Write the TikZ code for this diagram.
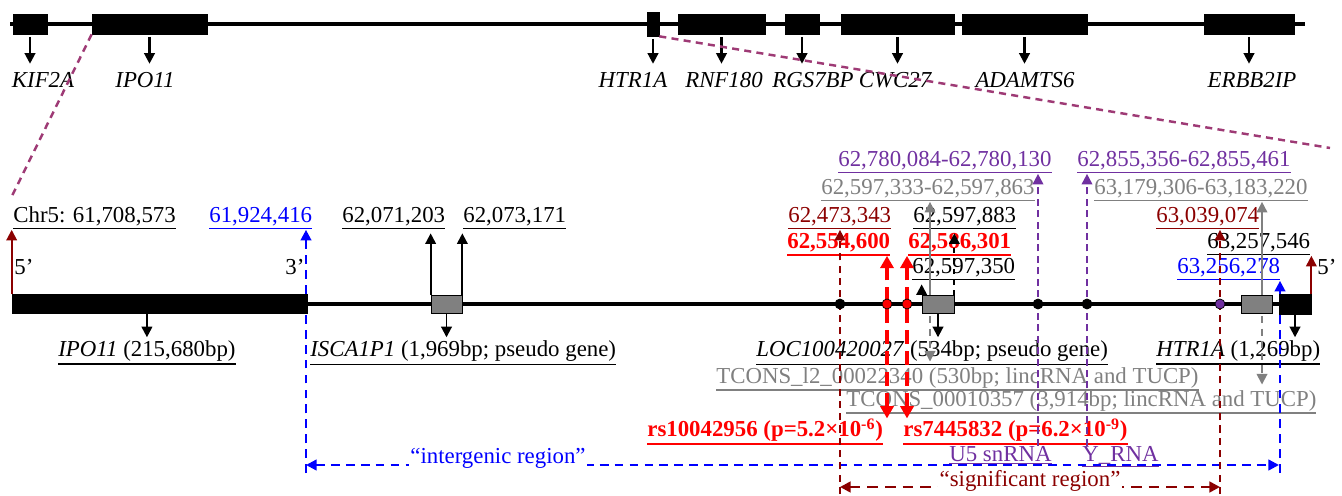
\documentclass[tikz,border=0pt]{standalone}
\usepackage{fontspec}
\setmainfont{Liberation Serif}
\usetikzlibrary{arrows.meta}
\definecolor{DeepRed}{HTML}{8B0000}
\definecolor{SnpRed}{HTML}{FF0000}
\definecolor{RnaPurple}{HTML}{7030A0}
\definecolor{ZoomPlum}{HTML}{9E3A75}
\definecolor{LincGray}{HTML}{808080}
\definecolor{BoxGray}{HTML}{808080}
% underline with a heavier rule
\newcommand{\uln}[1]{\leavevmode\vtop{\hbox{#1}\kern0.9pt\hrule height 0.8pt}}

\begin{document}
\begin{tikzpicture}[x=0.02cm, y=-0.02cm, >={Triangle[length=6pt,width=6pt]},
  every node/.style={font=\fontsize{13pt}{15pt}\selectfont},
  lbl/.style={inner sep=0pt, anchor=base west},
  gene/.style={font=\fontsize{13pt}{15pt}\selectfont\itshape, inner sep=0pt, anchor=base},
  exon/.style={draw=black, fill=black, inner sep=0pt, minimum height=0.4cm},
  pseudo/.style={draw=black, fill=BoxGray, inner sep=0pt, minimum height=0.36cm, thin},
  dot/.style={circle, draw=black, inner sep=0pt, minimum size=0.2cm, thin},
  genearrow/.style={->, line width=1.2pt, shorten >=5pt, shorten <=1.5pt},
  blackarrow/.style={->, line width=1.1pt, shorten >=2pt},
  deeparrow/.style={->, line width=1.1pt, DeepRed},
  zoomline/.style={ZoomPlum, line width=1.4pt, dash pattern=on 4pt off 3pt},
  bluedash/.style={blue, line width=1.3pt, dash pattern=on 5pt off 3.5pt},
  deepdash/.style={DeepRed, line width=1.1pt, dash pattern=on 4pt off 3pt},
  snpdash/.style={SnpRed, line width=2.6pt, dash pattern=on 8pt off 4pt, >={Triangle[length=7pt,width=7.5pt]}},
  purpledash/.style={RnaPurple, line width=1.1pt, dash pattern=on 4pt off 2.5pt},
  grayline/.style={LincGray, line width=1pt},
  graydash/.style={LincGray, line width=1pt, dash pattern=on 4pt off 3pt, shorten >=3pt}]
  \useasboundingbox (0,0) rectangle (1342,496);

  % chromosome overview
  \coordinate (topL) at (10,24);
  \coordinate (topR) at (1305,24);
  \draw[line width=2.8pt] (topL) -- (topR);
  \node[exon, minimum width=0.68cm] (kif) at (30,24) {};
  \node[exon, minimum width=2.3cm] (ipo) at (149.5,24) {};
  \node[exon, minimum width=0.24cm, minimum height=0.48cm] (htr) at (653,24) {};
  \node[exon, minimum width=1.74cm] (rnf) at (721.5,24) {};
  \node[exon, minimum width=0.68cm] (rgs) at (802,24) {};
  \node[exon, minimum width=2.26cm] (cwc) at (897.5,24) {};
  \node[exon, minimum width=2.5cm] (adam) at (1024.5,24) {};
  \node[exon, minimum width=1.8cm] (erbb) at (1249,24) {};
  \node[gene] (kifT) at (43,88) {KIF2A};
  \node[gene] (ipoT) at (145,88) {IPO11};
  \node[gene] (htrT) at (633,88) {HTR1A};
  \node[gene] (rnfT) at (724,88) {RNF180};
  \node[gene] (rgsT) at (813,88) {RGS7BP};
  \node[gene] (cwcT) at (895,88) {CWC27};
  \node[gene] (adamT) at (1025,88) {ADAMTS6};
  \node[gene] (erbbT) at (1252,88) {ERBB2IP};
  \draw[genearrow] (kif.south) -- (kif.south |- kifT.north);
  \draw[genearrow] (ipo.south) -- (ipo.south |- ipoT.north);
  \draw[genearrow] (htr.south) -- (htr.south |- htrT.north);
  \draw[genearrow] (rnf.south) -- (rnf.south |- rnfT.north);
  \draw[genearrow] (rgs.south) -- (rgs.south |- rgsT.north);
  \draw[genearrow] (cwc.south) -- (cwc.south |- cwcT.north);
  \draw[genearrow] (adam.south) -- (adam.south |- adamT.north);
  \draw[genearrow] (erbb.south) -- (erbb.south |- erbbT.north);

  % zoom lines
  \coordinate (zoomL) at (12,196);
  \coordinate (zoomR) at (1330,148);
  \draw[zoomline] (ipo.south west) -- (zoomL);
  \draw[zoomline] (htr.south east) -- (zoomR);

  % position labels
  \node[lbl] (chrL) at (13,223) {\uln{Chr5: 61,708,573}};
  \node[lbl, text=blue] (bl1) at (209,223) {\uln{61,924,416}};
  \node[lbl] (is1) at (342,223) {\uln{62,071,203}};
  \node[lbl] (is2) at (463,223) {\uln{62,073,171}};
  \node[lbl, text=DeepRed] (dr1) at (788,223) {\uln{62,473,343}};
  \node[lbl] (lc883) at (913,223) {\uln{62,597,883}};
  \node[lbl, text=DeepRed] (dr2) at (1156,223) {\uln{63,039,074}};
  \node[lbl, text=RnaPurple] (pu1) at (838,167) {\uln{62,780,084-62,780,130}};
  \node[lbl, text=RnaPurple] (pu2) at (1077,167) {\uln{62,855,356-62,855,461}};
  \node[lbl, text=LincGray] (gr1) at (821,195) {\uln{62,597,333-62,597,863}};
  \node[lbl, text=LincGray] (gr2) at (1094,195) {\uln{63,179,306-63,183,220}};
  \node[lbl, text=SnpRed] (rd1) at (787,249) {\uln{\textbf{62,554,600}}};
  \node[lbl, text=SnpRed] (rd2) at (908,249) {\uln{\textbf{62,586,301}}};
  \node[lbl] (ht546) at (1207,249) {\uln{63,257,546}};
  \node[lbl] (lc350) at (912,274) {\uln{62,597,350}};
  \node[lbl, text=blue] (bl2) at (1177,274) {\uln{63,256,278}};
  \node[lbl] (p5L) at (14,275) {5’};
  \node[lbl] (p3) at (285,275) {3’};
  \node[lbl] (p5R) at (1317,275) {5’};

  % gene and transcript labels
  \node[lbl] (ipoD) at (58,357) {\uln{\textit{IPO11} (215,680bp)}};
  \node[lbl] (iscD) at (310,357) {\uln{\textit{ISCA1P1} (1,969bp; pseudo gene)}};
  \node[lbl] (locD) at (756,357) {\uln{\textit{LOC100420027} (534bp; pseudo gene)}};
  \node[lbl] (htrD) at (1156,357) {\uln{\textit{HTR1A} (1,269bp)}};
  \node[lbl, text=LincGray] (tcA) at (716,383) {\uln{TCONS\_l2\_00022340 (530bp; lincRNA and TUCP)}};
  \node[lbl, text=LincGray] (tcB) at (846,406) {\uln{TCONS\_00010357 (3,914bp; lincRNA and TUCP)}};
  \node[lbl, text=SnpRed] (rsA) at (647,437) {\uln{\textbf{rs10042956 (p=5.2×10\textsuperscript{-6})}}};
  \node[lbl, text=SnpRed] (rsB) at (903,437) {\uln{\textbf{rs7445832 (p=6.2×10\textsuperscript{-9})}}};
  \node[lbl, text=RnaPurple] (u5) at (949,461) {\uln{U5 snRNA}};
  \node[lbl, text=RnaPurple] (yrna) at (1082,461) {\uln{Y\_RNA}};

  % positions on the locus line
  \coordinate (sA) at (840,304);
  \coordinate (sB) at (887,304);
  \coordinate (sC) at (907,304);
  \coordinate (sD) at (1038,304);
  \coordinate (sE) at (1087,304);
  \coordinate (sF) at (1220,304);
  \coordinate (gA) at (930,304);
  \coordinate (gB) at (1262,304);
  \coordinate (igL) at (306,473);
  \coordinate (igR) at (1280,473);
  \coordinate (igA) at (306,465);
  \coordinate (igB) at (1279,465);
  \coordinate (sgL) at (840,494);
  \coordinate (sgR) at (1220,494);
  \coordinate (sgA) at (840,487);
  \coordinate (sgB) at (1220,487);

  % regions
  \draw[bluedash, ->] (igL) -- (igL |- bl1.south);
  \draw[bluedash, ->] (igR) -- (igR |- bl2.south);
  \draw[bluedash, <->] (igA) -- (igB);
  \node[text=blue, fill=white, inner sep=1pt] (igT) at (498,458) {“intergenic region”};
  \draw[deepdash, ->] (sgL) -- (sgL |- dr1.south);
  \draw[deepdash, ->] (sgR) -- (sgR |- dr2.south);
  \draw[deepdash, <->, line width=1.6pt, dash pattern=on 6pt off 4pt] (sgA) -- (sgB);
  \node[text=DeepRed, fill=white, inner sep=1pt] (sgT) at (1030,481) {“significant region”};

  % SNPs, small RNAs, lincRNAs
  \draw[snpdash, <->] (sB |- rsA.north) -- (sB |- rd1.south);
  \draw[snpdash, <->] (sC |- rsB.north) -- (sC |- rd2.south);
  \draw[purpledash, ->] (sD |- u5.north) -- (sD |- pu1.south);
  \draw[purpledash, ->] (sE |- yrna.north) -- (sE |- pu2.south);
  \draw[grayline, ->] (gA) -- (gA |- gr1.south);
  \draw[graydash, ->] (gA) -- (gA |- tcA.north);
  \draw[grayline, ->] (gB) -- (gB |- gr2.south);
  \draw[graydash, ->] (gB) -- (gB |- tcB.north);

  % locus line
  \coordinate (mainL) at (12,304);
  \coordinate (mainR) at (1300,304);
  \draw[line width=2.5pt] (mainL) -- (mainR);
  \node[exon, minimum width=5.9cm, minimum height=0.38cm] (ipoBox) at (159.5,304) {};
  \node[pseudo, minimum width=0.62cm] (iscBox) at (446.5,304) {};
  \node[pseudo, minimum width=0.64cm] (locBox) at (938,304.5) {};
  \node[pseudo, minimum width=0.62cm] (tcBox) at (1256.5,304) {};
  \node[exon, minimum width=0.64cm] (htrBox) at (1295,304) {};
  \node[dot, fill=black] (snpA) at (sA) {};
  \node[dot, fill=SnpRed] (snpB) at (sB) {};
  \node[dot, fill=SnpRed] (snpC) at (sC) {};
  \node[dot, fill=black] (snpD) at (sD) {};
  \node[dot, fill=black] (snpE) at (sE) {};
  \node[dot, fill=RnaPurple] (snpF) at (sF) {};

  % gene ends
  \draw[deeparrow] (ipoBox.north west) -- (ipoBox.north west |- chrL.south);
  \draw[blackarrow] (ipoD.north |- ipoBox.south) -- (ipoD.north);
  \draw[blackarrow] (iscBox.north west) -- (iscBox.north west |- is1.south);
  \draw[blackarrow] (iscBox.north east) -- (iscBox.north east |- is2.south);
  \draw[blackarrow] (iscBox.south) -- (iscBox.south |- iscD.north);
  \draw[blackarrow] (locBox.north west) -- (locBox.north west |- lc350.south);
  \draw[blackarrow, dashed] (locBox.north east) -- (locBox.north east |- lc883.south);
  \draw[blackarrow] (locBox.south) -- (locBox.south |- locD.north);
  \draw[deeparrow] (htrBox.north east) -- (htrBox.north east |- ht546.south);
  \draw[blackarrow] (htrBox.south) -- (htrBox.south |- htrD.north);
\end{tikzpicture}
\end{document}
